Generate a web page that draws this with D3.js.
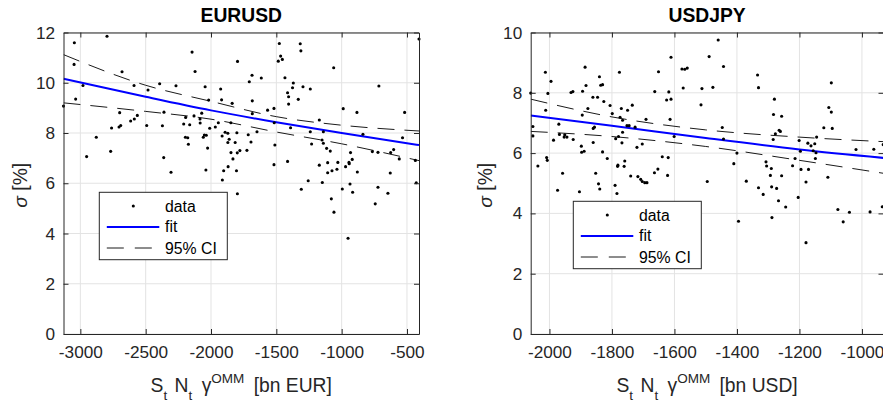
<!DOCTYPE html>
<html>
<head>
<meta charset="utf-8">
<script src="https://cdn.jsdelivr.net/npm/d3@7"></script>
<style>
  html, body { margin: 0; padding: 0; background: #fff; overflow: hidden; }
  svg { display: block; font-family: "Liberation Sans", Arial, Helvetica, sans-serif; }
</style>
</head>
<body>
<svg id="chart" width="883" height="403"></svg>
<script>
// ---------- EURUSD: exposure vs. volatility ----------
const eurX = [-3129,-3046,-3048,-3036,-2980,-2796,-2952,-2878,-2768,-2761,-2699,-2704,-2691,-2681,-2615,-2587,-2564,-2589,-2492,-2482,
  -2393,-2372,-2362,-2360,-2306,-2268,-2209,-2194,-2196,-2178,-2173,-2163,-2145,-2130,-2122,-2083,-2084,-2071,-2059,-2051,
  -2045,-2036,-2026,-2039,-2018,-2010,-1967,-1944,-1926,-1919,-1915,-1913,-1903,-1892,-1871,-1871,-1861,-1869,-1848,-1847,
  -1838,-1832,-1815,-1805,-1802,-1797,-1799,-1779,-1798,-1725,-1715,-1707,-1694,-1686,-1684,-1684,-1648,-1615,-1567,-1518,
  -1516,-1511,-1518,-1477,-1485,-1467,-1454,-1434,-1414,-1406,-1406,-1414,-1391,-1376,-1370,-1332,-1317,-1312,-1296,-1309,
  -1256,-1240,-1230,-1240,-1171,-1171,-1150,-1148,-1140,-1140,-1115,-1107,-1107,-1087,-1079,-1074,-1061,-1059,-1036,-1029,
  -995,-988,-970,-944,-942,-932,-919,-951,-936,-916,-883,-880,-837,-765,-722,-715,-722,-743,-628,-646,
  -625,-602,-559,-534,-518,-436,-429,-408];
const eurSigma = [9.07,11.59,10.73,9.35,9.89,11.85,7.06,7.83,7.27,8.20,8.81,8.24,8.30,10.44,8.48,8.56,8.70,9.89,8.30,9.71,
  9.96,8.29,7.02,8.83,6.44,9.88,8.36,8.62,7.83,7.81,7.55,8.33,11.22,8.68,10.45,8.40,8.56,8.79,7.83,7.92,
  9.84,7.91,7.40,6.53,9.31,8.19,8.24,8.41,9.75,9.32,7.88,6.13,6.50,8.03,7.99,7.62,7.75,6.66,8.41,7.22,
  9.18,6.97,7.62,6.50,8.01,10.85,7.21,7.30,5.58,7.31,7.93,10.04,7.64,10.30,9.28,8.77,8.05,10.19,8.91,8.98,
  8.41,7.52,6.74,11.56,10.86,11.06,10.93,10.20,9.60,9.44,9.15,6.87,8.21,9.80,9.99,9.34,11.55,11.27,9.84,5.76,
  6.10,9.75,7.56,8.05,8.52,6.72,7.72,6.03,7.59,8.05,7.39,6.82,6.42,7.28,5.38,6.50,10.60,4.85,6.56,6.83,
  5.77,8.97,6.66,6.83,6.78,7.22,6.95,3.81,5.97,5.64,8.82,6.45,7.95,7.26,7.23,9.87,5.84,5.18,6.41,5.60,
  7.22,7.34,6.97,7.81,8.82,6.91,6.02,11.74];
// fitted curve and 95% confidence bounds, sampled along x
const eurCurveX = [-3129,-2500,-2000,-1500,-1000,-408];
const eurFit    = [10.16,9.44,8.90,8.43,8.00,7.52];
const eurUpper  = [11.12,9.90,9.26,8.65,8.31,8.08];
const eurLower  = [9.20,8.86,8.55,8.04,7.57,6.90];
const eurXTicks = [-3000,-2500,-2000,-1500,-1000,-500];
const eurYTicks = [0,2,4,6,8,10,12];

// ---------- USDJPY: exposure vs. volatility ----------
const jpyX = [-2060,-2053,-2053,-2037,-2013,-2012,-2009,-2007,-2005,-1995,-1987,-1970,-1974,-1968,-1958,-1953,-1951,-1944,-1931,-1925,
  -1924,-1904,-1898,-1897,-1895,-1894,-1889,-1886,-1883,-1877,-1861,-1860,-1860,-1856,-1852,-1846,-1843,-1840,-1839,-1836,
  -1830,-1830,-1826,-1815,-1806,-1799,-1790,-1788,-1784,-1781,-1782,-1779,-1776,-1774,-1770,-1768,-1766,-1766,-1761,-1759,
  -1752,-1750,-1745,-1740,-1735,-1726,-1720,-1717,-1708,-1703,-1703,-1695,-1688,-1691,-1664,-1663,-1653,-1651,-1639,-1625,
  -1622,-1620,-1618,-1614,-1611,-1611,-1601,-1576,-1572,-1567,-1559,-1515,-1512,-1495,-1489,-1477,-1460,-1447,-1443,-1443,
  -1410,-1400,-1370,-1395,-1334,-1331,-1331,-1316,-1307,-1305,-1293,-1290,-1289,-1288,-1284,-1283,-1280,-1277,-1273,-1267,
  -1265,-1261,-1257,-1257,-1244,-1222,-1214,-1204,-1201,-1197,-1195,-1179,-1179,-1173,-1171,-1163,-1156,-1151,-1149,-1147,
  -1145,-1122,-1109,-1106,-1098,-1098,-1095,-1077,-1060,-1040,-1019,-974,-962,-935,-932];
const jpySigma = [7.99,6.88,6.57,5.57,8.68,7.42,5.85,5.76,7.98,8.38,6.43,6.96,4.77,6.62,5.33,6.53,6.61,6.53,8.01,8.04,
  6.45,4.72,6.23,6.03,7.26,8.05,6.06,8.85,8.24,7.48,7.85,6.35,6.82,6.86,5.33,7.85,4.98,8.53,4.81,8.25,
  8.27,6.04,7.71,5.82,7.58,7.31,4.93,6.48,4.66,5.60,5.56,6.55,8.68,7.19,7.48,6.34,6.69,7.09,5.56,5.74,
  6.91,7.42,6.91,5.24,7.59,6.86,6.19,5.22,5.13,6.30,5.06,5.02,5.02,7.12,5.35,8.04,5.47,8.70,5.88,7.76,
  5.26,5.85,8.03,7.12,7.79,9.18,6.55,8.79,8.16,8.78,8.82,7.60,8.14,5.06,9.20,8.18,9.75,6.85,6.47,8.87,
  5.65,6.00,5.07,3.74,8.59,8.17,4.85,4.63,5.71,5.57,5.26,5.49,4.88,3.86,6.45,7.28,7.79,6.64,4.83,4.42,
  6.76,6.72,7.22,5.25,4.21,5.58,5.82,4.53,6.42,6.06,5.46,5.04,3.03,6.33,5.46,6.24,6.08,6.31,5.82,6.01,
  6.53,6.84,5.20,7.51,7.36,8.33,6.82,4.13,3.72,4.04,6.12,4.05,6.13,4.22,6.28];
const jpyCurveX = [-2060,-1800,-1500,-1200,-931];
const jpyFit    = [7.25,6.91,6.50,6.12,5.84];
const jpyUpper  = [7.79,7.20,6.77,6.53,6.38];
const jpyLower  = [6.72,6.55,6.22,5.76,5.33];
const jpyXTicks = [-2000,-1800,-1600,-1400,-1200,-1000];
const jpyYTicks = [0,2,4,6,8,10];

const legendLabels = ["data", "fit", "95% CI"];

const AXIS = "#262626", GRID = "#e3e3e3";
const TICK_FS = 17.2, LABEL_FS = 19.3, LEGEND_FS = 15.8;

const svg = d3.select("#chart");

function drawPanel(cfg) {
  const g = svg.append("g");
  const x = d3.scaleLinear().domain(cfg.xDomain).range([cfg.left, cfg.right]);
  const y = d3.scaleLinear().domain(cfg.yDomain).range([cfg.bottom, cfg.top]);

  // grid
  g.append("g").selectAll("line").data(cfg.xTicks).join("line")
    .attr("x1", d => x(d)).attr("x2", d => x(d))
    .attr("y1", cfg.top).attr("y2", cfg.bottom)
    .attr("stroke", GRID).attr("stroke-width", 1);
  g.append("g").selectAll("line").data(cfg.yTicks).join("line")
    .attr("x1", cfg.left).attr("x2", cfg.right)
    .attr("y1", d => y(d)).attr("y2", d => y(d))
    .attr("stroke", GRID).attr("stroke-width", 1);

  // clip region for the curves
  const clipId = "clip-" + cfg.id;
  svg.append("defs").append("clipPath").attr("id", clipId)
    .append("rect").attr("x", cfg.left).attr("y", cfg.top)
    .attr("width", cfg.right - cfg.left).attr("height", cfg.bottom - cfg.top);

  const curves = g.append("g").attr("clip-path", `url(#${clipId})`);
  const line = (ys) => d3.line()
    .x((d, i) => x(cfg.curveX[i])).y(d => y(d))
    .curve(d3.curveMonotoneX)(ys);

  // data points
  const pts = cfg.xs.map((v, i) => [v, cfg.ys[i]]);
  g.append("g").selectAll("circle").data(pts).join("circle")
    .attr("cx", d => x(d[0])).attr("cy", d => y(d[1]))
    .attr("r", 1.55).attr("fill", "#000");

  curves.append("path").attr("d", line(cfg.upper))
    .attr("fill", "none").attr("stroke", "#000").attr("stroke-width", 0.9)
    .attr("stroke-dasharray", "17,10");
  curves.append("path").attr("d", line(cfg.lower))
    .attr("fill", "none").attr("stroke", "#000").attr("stroke-width", 0.9)
    .attr("stroke-dasharray", "17,10");
  curves.append("path").attr("d", line(cfg.fit))
    .attr("fill", "none").attr("stroke", "#0000ff").attr("stroke-width", 2);

  // axes with inward ticks
  const styleAxis = sel => {
    sel.selectAll("path.domain").attr("stroke", AXIS).attr("stroke-width", 1);
    sel.selectAll(".tick line").attr("stroke", AXIS).attr("stroke-width", 1);
    sel.selectAll(".tick text").attr("fill", AXIS).attr("font-size", TICK_FS)
      .attr("font-family", "Liberation Sans, Arial, sans-serif");
  };
  g.append("g").attr("transform", `translate(0,${cfg.bottom})`)
    .call(d3.axisBottom(x).tickValues(cfg.xTicks).tickFormat(d => String(d))
      .tickSizeInner(-5).tickSizeOuter(0).tickPadding(11.5))
    .call(styleAxis);
  g.append("g").attr("transform", `translate(${cfg.left},0)`)
    .call(d3.axisLeft(y).tickValues(cfg.yTicks).tickFormat(d => String(d))
      .tickSizeInner(-5).tickSizeOuter(0).tickPadding(8.5))
    .call(styleAxis);
  g.append("g").attr("transform", `translate(0,${cfg.top})`)
    .call(d3.axisTop(x).tickValues(cfg.xTicks).tickFormat("")
      .tickSizeInner(-5).tickSizeOuter(0))
    .call(styleAxis);
  g.append("g").attr("transform", `translate(${cfg.right},0)`)
    .call(d3.axisRight(y).tickValues(cfg.yTicks).tickFormat("")
      .tickSizeInner(-5).tickSizeOuter(0))
    .call(styleAxis);

  const cx = (cfg.left + cfg.right) / 2;

  // title
  g.append("text").attr("x", cx).attr("y", 21.7)
    .attr("text-anchor", "middle").attr("font-size", LABEL_FS)
    .attr("font-weight", "bold").attr("fill", "#000").text(cfg.title);

  // x label: S_t N_t gamma^OMM [bn CCY]
  const xl = g.append("text").attr("x", cx).attr("y", 392)
    .attr("text-anchor", "middle").attr("font-size", LABEL_FS)
    .attr("fill", AXIS).attr("xml:space", "preserve");
  xl.append("tspan").text("S");
  xl.append("tspan").attr("dy", 8).attr("font-size", 13.5).text("t");
  xl.append("tspan").attr("dy", -8).attr("dx", 2).text(" N");
  xl.append("tspan").attr("dy", 8).attr("font-size", 13.5).text("t");
  xl.append("tspan").attr("dy", -8).attr("dx", 4).text(" γ");
  xl.append("tspan").attr("dy", -9).attr("font-size", 13.5).text("OMM");
  xl.append("tspan").attr("dy", 9).attr("dx", 4).text(" " + cfg.unit);

  // y label
  const yl = g.append("text")
    .attr("transform", `translate(${cfg.yLabelX},${(cfg.top + cfg.bottom) / 2 + 2}) rotate(-90)`)
    .attr("text-anchor", "middle").attr("font-size", LABEL_FS).attr("fill", AXIS);
  yl.append("tspan").attr("font-style", "italic").text("σ");
  yl.append("tspan").text(" [%]");

  // legend
  const L = cfg.legend;
  const lg = g.append("g").attr("transform", `translate(${L.x},${L.y})`);
  lg.append("rect").attr("x", 0).attr("y", 0).attr("width", 128).attr("height", 67.4)
    .attr("fill", "#fff").attr("stroke", AXIS).attr("stroke-width", 1);
  const rows = [13.7, 34.6, 55.7];
  lg.append("circle").attr("cx", 34).attr("cy", rows[0]).attr("r", 1.55).attr("fill", "#000");
  lg.append("line").attr("x1", 7.5).attr("x2", 60).attr("y1", rows[1]).attr("y2", rows[1])
    .attr("stroke", "#0000ff").attr("stroke-width", 2);
  lg.append("line").attr("x1", 7.5).attr("x2", 60).attr("y1", rows[2]).attr("y2", rows[2])
    .attr("stroke", "#000").attr("stroke-width", 0.9).attr("stroke-dasharray", "17,11");
  lg.selectAll("text").data(legendLabels).join("text")
    .attr("x", 65.7).attr("y", (d, i) => rows[i] + 5.6)
    .attr("font-size", LEGEND_FS).attr("fill", "#000").text(d => d);
}

drawPanel({
  id: "eur", title: "EURUSD", unit: "[bn EUR]",
  xs: eurX, ys: eurSigma, curveX: eurCurveX, fit: eurFit, upper: eurUpper, lower: eurLower,
  xDomain: [-3129, -408], yDomain: [0, 12], xTicks: eurXTicks, yTicks: eurYTicks,
  left: 63.5, right: 419, top: 32.5, bottom: 334, yLabelX: 27,
  legend: { x: 99.3, y: 192.3 }
});

drawPanel({
  id: "jpy", title: "USDJPY", unit: "[bn USD]",
  xs: jpyX, ys: jpySigma, curveX: jpyCurveX, fit: jpyFit, upper: jpyUpper, lower: jpyLower,
  xDomain: [-2060, -931], yDomain: [0, 10], xTicks: jpyXTicks, yTicks: jpyYTicks,
  left: 530.7, right: 883.5, top: 32.5, bottom: 334, yLabelX: 492,
  legend: { x: 573.3, y: 201.3 }
});
</script>
</body>
</html>
